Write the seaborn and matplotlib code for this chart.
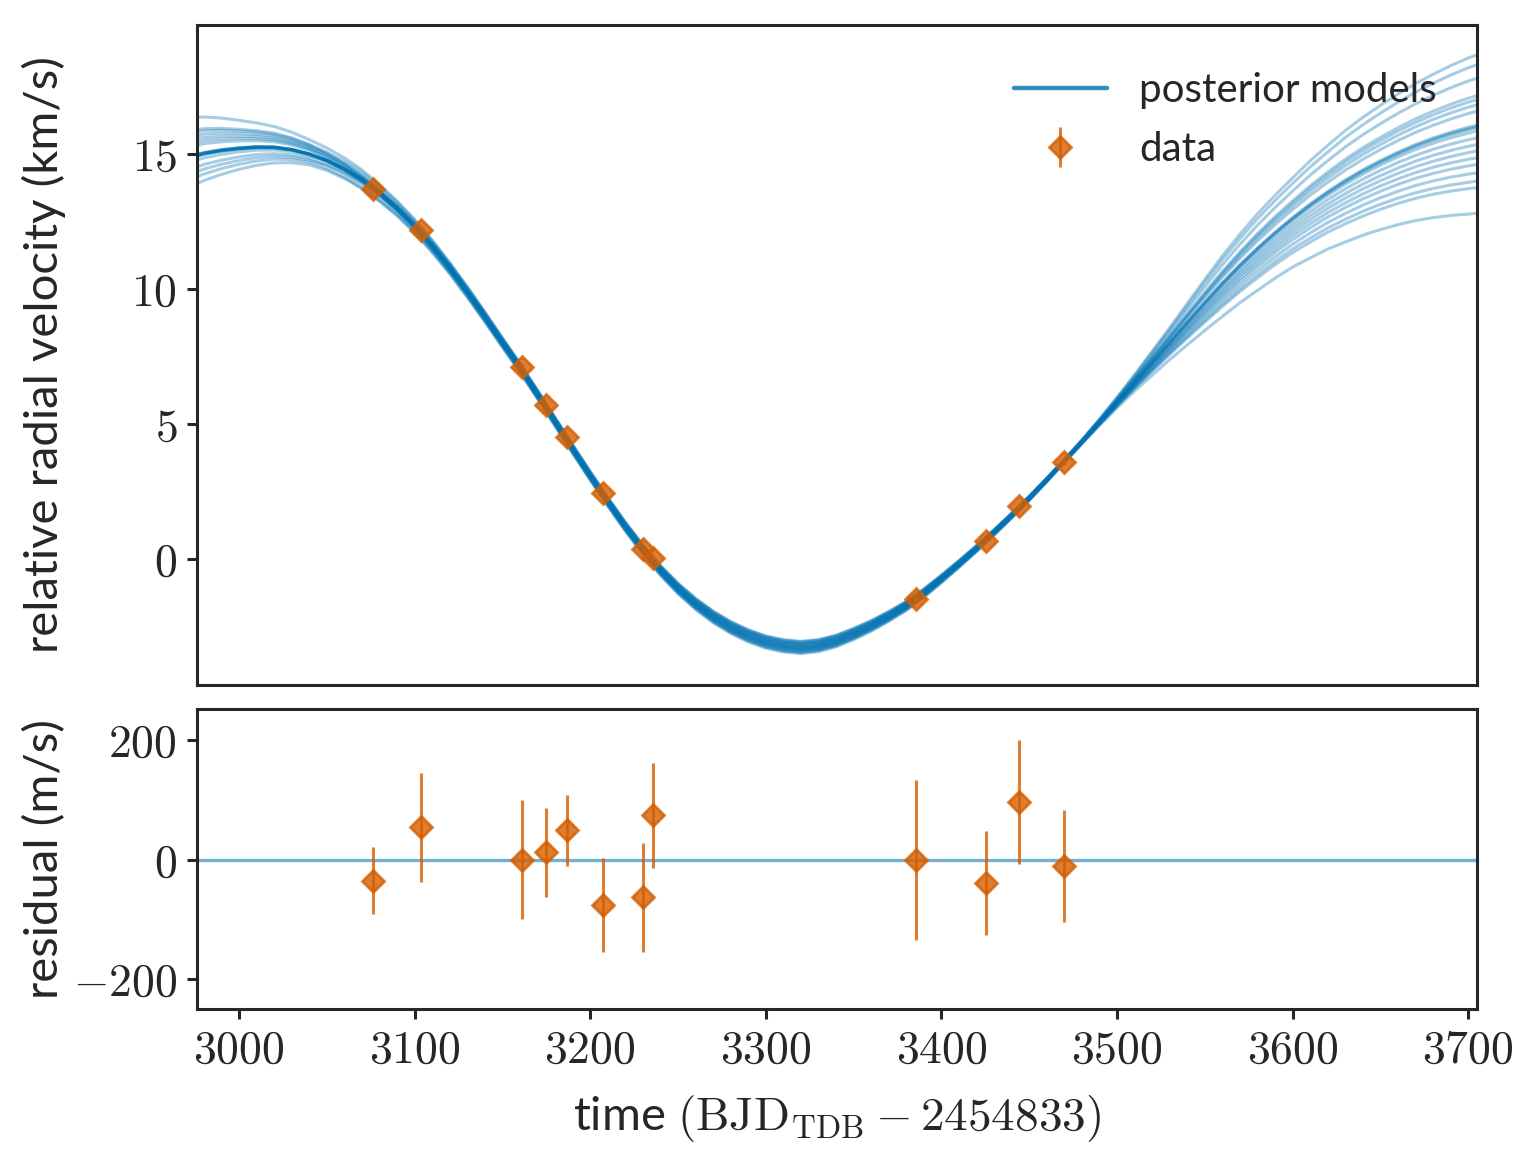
import numpy as np
import pandas as pd
import matplotlib
matplotlib.use("Agg")
import matplotlib.pyplot as plt
from matplotlib.lines import Line2D
from matplotlib.ticker import FuncFormatter, MultipleLocator
import seaborn as sns

# ----------------------- data -----------------------

# observed radial velocities (km/s) and residuals to the best model (m/s)
obs_time = [3076.0, 3103.4, 3161.0, 3175.0, 3187.0, 3207.0, 3230.0, 3235.7,
            3385.3, 3425.3, 3444.2, 3469.6]
obs_rv = [13.70, 12.19, 7.11, 5.70, 4.52, 2.44, 0.37, 0.04,
          -1.48, 0.67, 1.96, 3.59]
resid = [-35, 54, 0, 12, 49, -76, -63, 74, 0, -39, 96, -11]
resid_err = [56, 91, 100, 75, 60, 78, 91, 88, 134, 87, 104, 94]

# central posterior model, sampled every 10 days from 2970 to 3710
model_time = np.arange(2970, 3711, 10)
model_center = [
    14.78, 14.96, 15.08, 15.16, 15.21, 15.21, 15.13, 14.97, 14.73, 14.41,
    14.01, 13.52, 12.96, 12.31, 11.57, 10.76, 9.88, 8.96, 8.01, 7.08,
    6.09, 5.08, 4.07, 3.08, 2.12, 1.20, 0.35, -0.42, -1.09, -1.66,
    -2.14, -2.53, -2.84, -3.07, -3.21, -3.27, -3.20, -3.03, -2.77, -2.47,
    -2.12, -1.73, -1.26, -0.73, -0.18, 0.39, 0.99, 1.61, 2.25, 2.93,
    3.63, 4.34, 5.07, 5.81, 6.55, 7.29, 8.03, 8.77, 9.50, 10.21,
    10.88, 11.50, 12.08, 12.62, 13.12, 13.58, 14.00, 14.38, 14.72, 15.03,
    15.31, 15.55, 15.76, 15.94, 16.09,
]

# how far the posterior fan opens up along the time grid (fraction of edge spread)
left_fade = [1.06, 0.96, 0.85, 0.74, 0.64, 0.55, 0.46, 0.38, 0.31, 0.26,
             0.21, 0.16, 0.12, 0.09, 0.07, 0.05, 0.04, 0.03, 0.02, 0.01] + [0.0] * 55
mid_shape = [0.0] * 8 + [
    0.20, 0.35, 0.50, 0.60, 0.65, 0.68,
    0.70, 0.70, 0.70, 0.70, 0.70, 0.70, 0.70, 0.70, 0.70, 0.70,
    0.71, 0.73, 0.76, 0.80, 0.85, 0.90, 0.94, 0.97, 0.99, 1.00,
    1.00, 1.00, 0.98, 0.95, 0.91, 0.86, 0.80, 0.74, 0.68, 0.62,
    0.56, 0.50, 0.45, 0.40, 0.35, 0.30, 0.25, 0.19, 0.13, 0.08,
    0.04, 0.01] + [0.0] * 19
right_rise = [0.0] * 51 + [
    0.01, 0.03, 0.06, 0.10, 0.15, 0.20, 0.26, 0.32, 0.38, 0.43,
    0.48, 0.52, 0.56, 0.61, 0.65, 0.70, 0.74, 0.78, 0.82, 0.86,
    0.90, 0.94, 0.98, 1.01]

# per-model offsets (km/s) at the left edge, near the minimum and at the right edge
left_off = [1.47, 1.02, 0.94, 0.81, 0.68, 0.56, 0.44, -0.11, -0.36, -0.54,
            -0.73, -0.98, 0.04, 0.06, 0.08, 0.10, 0.05, 0.07, 0.03, 0.09]
mid_off = [0.18, -0.12, 0.22, -0.08, 0.14, -0.20, 0.06, 0.20, -0.15, 0.10,
           -0.24, -0.18, 0.03, 0.00, -0.03, 0.08, -0.05, -0.10, 0.12, -0.02]
right_off = [1.15, -1.41, 2.30, -0.42, 1.80, -2.27, 0.57, 2.67, -0.91, 0.81,
             -3.23, -1.72, 1.00, -0.17, 0.05, 0.00, -0.05, -0.67, -1.16, -2.03]

BLUE = "#0072b2"
ORANGE = "#d55e00"

# ----------------------- build long-form model table -----------------------

frames = []
for i in range(len(left_off)):
    rv = (np.array(model_center)
          + left_off[i] * np.array(left_fade)
          + mid_off[i] * np.array(mid_shape)
          + right_off[i] * np.array(right_rise))
    frames.append(pd.DataFrame({"time": model_time, "rv": rv, "model": i}))
models = pd.concat(frames, ignore_index=True)

# ----------------------- style -----------------------

sns.set_style("ticks")
plt.rcParams["font.family"] = ["Lato", "DejaVu Sans"]
plt.rcParams["mathtext.fontset"] = "cm"
plt.rcParams["axes.edgecolor"] = "#262626"
plt.rcParams["axes.linewidth"] = 1.1

fig = plt.figure(figsize=(7.655, 5.83), dpi=200)
ax_top = fig.add_axes([0.1287, 0.4125, 0.836, 0.5661])
ax_bot = fig.add_axes([0.1287, 0.1346, 0.836, 0.2573])

# ----------------------- top panel: models + data -----------------------

sns.lineplot(data=models, x="time", y="rv", units="model", estimator=None,
             color=BLUE, alpha=0.35, linewidth=1.1, legend=False, ax=ax_top)
data_handle = ax_top.errorbar(obs_time, obs_rv, yerr=np.array(resid_err) / 1000.0,
                              fmt="D", color=ORANGE, ms=5.5, alpha=0.8,
                              elinewidth=1.1, zorder=4)

ax_top.set_xlim(2976, 3705)
ax_top.set_ylim(-4.67, 19.78)
ax_top.set_xlabel("")
ax_top.set_ylabel("relative radial velocity (km/s)", fontsize=17)
ax_top.yaxis.set_major_locator(MultipleLocator(5))
ax_top.tick_params(axis="x", bottom=False, labelbottom=False)

model_handle = Line2D([], [], color=BLUE, alpha=0.8, linewidth=1.6)
ax_top.legend([model_handle, data_handle], ["posterior models", "data"],
              loc="upper right", bbox_to_anchor=(1.0, 0.99), frameon=False,
              fontsize=14.5, handlelength=2.3, handletextpad=0.8,
              labelspacing=0.55, borderaxespad=0.6)

# ----------------------- bottom panel: residuals -----------------------

ax_bot.axhline(0, color=BLUE, alpha=0.55, linewidth=1.2, zorder=1)
ax_bot.errorbar(obs_time, resid, yerr=resid_err, fmt="D", color=ORANGE,
                ms=5.5, alpha=0.8, elinewidth=1.1, zorder=3)
ax_bot.set_xlim(2976, 3705)
ax_bot.set_ylim(-250, 252)
ax_bot.yaxis.set_major_locator(MultipleLocator(200))
ax_bot.xaxis.set_major_locator(MultipleLocator(100))
ax_bot.set_ylabel("residual (m/s)", fontsize=17)
ax_bot.set_xlabel(r"time $(\mathrm{BJD}_\mathrm{TDB} - 2454833)$", fontsize=17,
                  labelpad=8)

mathfmt = FuncFormatter(lambda v, p: f"${v:g}$")
for ax in (ax_top, ax_bot):
    for side in ("top", "right", "left", "bottom"):
        ax.spines[side].set_visible(True)
    ax.yaxis.set_major_formatter(mathfmt)
    ax.tick_params(direction="out", length=3.6, width=1.1, labelsize=16.5,
                   colors="#262626")
    ax.yaxis.set_label_coords(-0.102, 0.5)
ax_bot.xaxis.set_major_formatter(mathfmt)

fig.savefig("out.png", dpi=200)
